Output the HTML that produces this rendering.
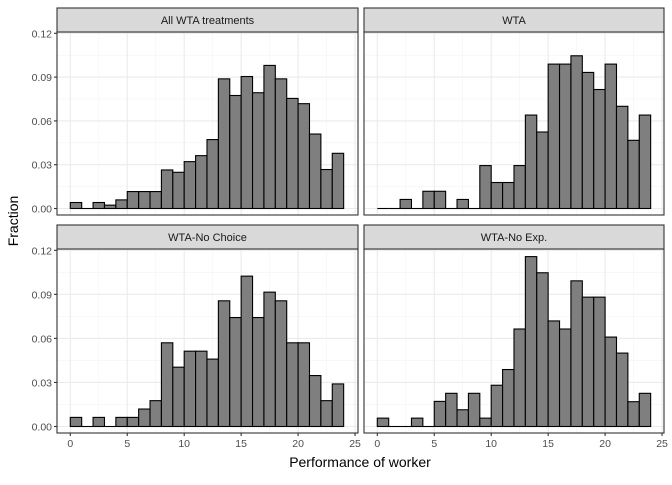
<!DOCTYPE html>
<html><head><meta charset="utf-8"><style>
body{margin:0;background:#fff}
svg text{font-family:"Liberation Sans",sans-serif}
</style></head><body>
<svg id="c" width="672" height="480" xmlns="http://www.w3.org/2000/svg"></svg>
<script>
const panelTitles=["All WTA treatments","WTA","WTA-No Choice","WTA-No Exp."];
const binStarts=[0,1,2,3,4,5,6,7,8,9,10,11,12,13,14,15,16,17,18,19,20,21,22,23];
const allWta=[.0041,0,.0041,.0023,.0059,.0116,.0116,.0116,.0264,.0248,.0321,.0362,.0472,.0888,.0774,.0904,.0793,.098,.0888,.0754,.0718,.051,.0267,.0378];
const wta=[0,0,.0062,0,.0118,.0118,0,.0062,0,.0294,.0178,.0178,.0294,.064,.0524,.0989,.0989,.1046,.0932,.0815,.0989,.07,.0467,.064];
const wtaNoChoice=[.0062,0,.0062,0,.0062,.0062,.0119,.0176,.057,.0404,.0513,.0513,.0459,.0856,.0742,.1024,.0742,.0915,.0856,.057,.057,.0347,.0176,.029];
const wtaNoExp=[.0057,0,0,.0057,0,.0171,.0226,.0114,.0226,.0057,.0281,.0388,.0664,.1157,.1047,.0719,.0664,.0992,.0881,.0881,.0609,.05,.0169,.0226];
const yTicks=[0,0.03,0.06,0.09,0.12];
const yTickLabels=["0.00","0.03","0.06","0.09","0.12"];
const xTicks=[0,5,10,15,20,25];
const series=[allWta,wta,wtaNoChoice,wtaNoExp];

const svg=document.getElementById('c');
const NS="http://www.w3.org/2000/svg";
function el(t,a,p){const e=document.createElementNS(NS,t);for(const k in a)e.setAttribute(k,a[k]);(p||svg).appendChild(e);return e;}
const panels=[
 {x0:57,x1:358,st:8,top:32,bot:215,left:true,bottom:false},
 {x0:364,x1:664,st:8,top:32,bot:215,left:false,bottom:false},
 {x0:57,x1:358,st:225,top:249,bot:433,left:true,bottom:true},
 {x0:364,x1:664,st:225,top:249,bot:433,left:false,bottom:true}];
const xOff=13.3, xScaleU=11.39;
panels.forEach((p,i)=>{
  const g=el('g',{});
  
  
  const zeroY=p.bot-6.5, topY=p.top+1.3;
  const ys=v=>zeroY-(v/0.12)*(zeroY-topY);
  const xs=v=>p.x0+xOff+v*xScaleU;
  el('rect',{x:p.x0,y:p.top,width:p.x1-p.x0,height:p.bot-p.top,fill:'#fff'},g);
  for(let v=0.015;v<0.13;v+=0.03) el('line',{x1:p.x0,x2:p.x1,y1:ys(v),y2:ys(v),stroke:'#f3f3f3','stroke-width':0.6},g);
  for(let v=2.5;v<26;v+=5) el('line',{x1:xs(v),x2:xs(v),y1:p.top,y2:p.bot,stroke:'#f3f3f3','stroke-width':0.6},g);
  yTicks.forEach(v=>el('line',{x1:p.x0,x2:p.x1,y1:ys(v),y2:ys(v),stroke:'#ebebeb','stroke-width':1.1},g));
  xTicks.forEach(v=>el('line',{x1:xs(v),x2:xs(v),y1:p.top,y2:p.bot,stroke:'#ebebeb','stroke-width':1.1},g));
  series[i].forEach((v,j)=>{
    let r;
    if(v>0){
      r=el('rect',{x:xs(binStarts[j]),y:ys(v),width:xScaleU,height:zeroY-ys(v),fill:'#7f7f7f',stroke:'#000','stroke-width':1.1},g);
    } else {
      r=el('line',{x1:xs(binStarts[j]),x2:xs(binStarts[j])+xScaleU,y1:zeroY,y2:zeroY,stroke:'#000','stroke-width':1.1},g);
    }
    
    
  });
  el('rect',{x:p.x0,y:p.top,width:p.x1-p.x0,height:p.bot-p.top,fill:'none',stroke:'#333','stroke-width':1.1},g);
  const s=el('rect',{x:p.x0,y:p.st,width:p.x1-p.x0,height:p.top-p.st,fill:'#d9d9d9',stroke:'#333','stroke-width':1.1},g);
  
  
  const t=el('text',{x:(p.x0+p.x1)/2,y:p.st+16,'text-anchor':'middle','font-size':11,fill:'#1a1a1a'},g);
  t.textContent=panelTitles[i];
  
  
  if(p.left){yTicks.forEach((v,k)=>{
    el('line',{x1:p.x0-3,x2:p.x0,y1:ys(v),y2:ys(v),stroke:'#333','stroke-width':1.1},g);
    const tt=el('text',{x:p.x0-5,y:ys(v)+4,'text-anchor':'end','font-size':10.5,fill:'#4d4d4d'},g);
    tt.textContent=yTickLabels[k];
    
    
  });}
  if(p.bottom){xTicks.forEach(v=>{
    el('line',{x1:xs(v),x2:xs(v),y1:p.bot,y2:p.bot+3,stroke:'#333','stroke-width':1.1},g);
    const tt=el('text',{x:xs(v),y:p.bot+14,'text-anchor':'middle','font-size':10.5,fill:'#4d4d4d'},g);
    tt.textContent=v;
    
    
  });}
});
const xt=el('text',{x:360,y:467,'text-anchor':'middle','font-size':14,fill:'#000'});
xt.textContent='Performance of worker';


const yt=el('text',{x:18,y:221,'text-anchor':'middle','font-size':14,fill:'#000',transform:'rotate(-90 18 221)'});
yt.textContent='Fraction';


</script>
</body></html>
